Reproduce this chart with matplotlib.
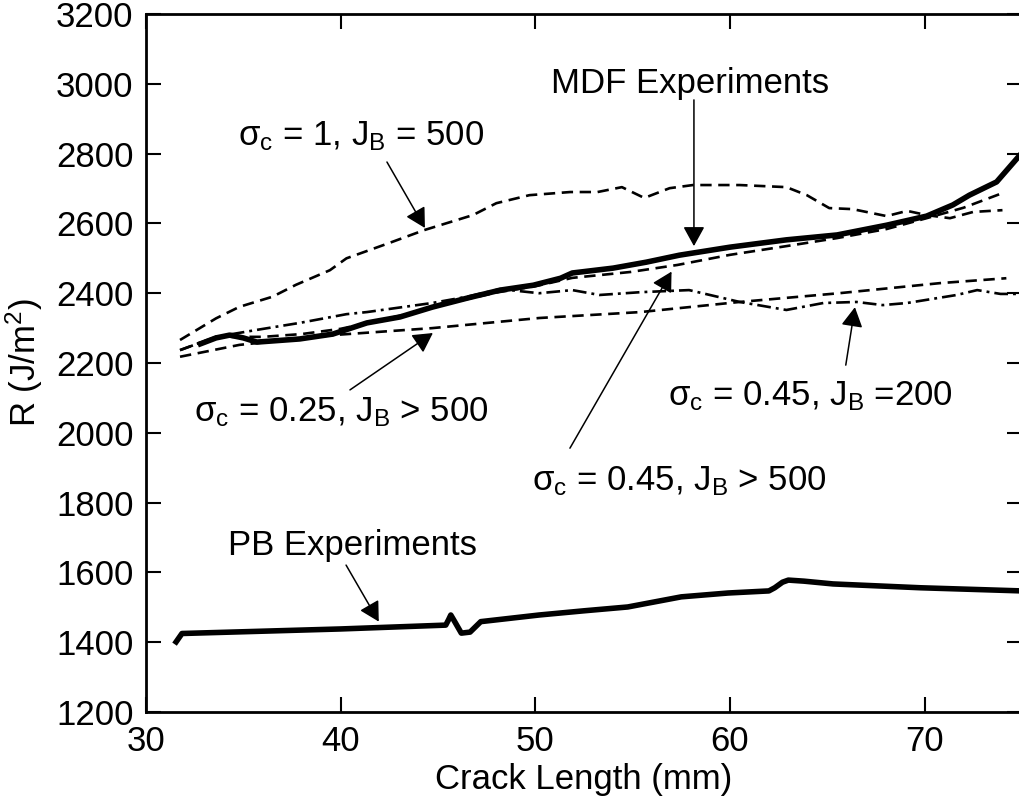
import matplotlib
matplotlib.use('Agg')
import matplotlib.pyplot as plt

plt.rcParams['font.family'] = ['Liberation Sans', 'DejaVu Sans']
plt.rcParams['mathtext.fontset'] = 'custom'
plt.rcParams['mathtext.rm'] = 'Liberation Sans'
plt.rcParams['mathtext.it'] = 'Liberation Sans'

# sigma_c = 1, J_B = 500 (dashed, top)
s1_x = [31.75, 33.6, 34.8, 36.5, 37.7, 39.45, 40.3, 42.5, 44.3, 46.8, 48.0, 49.7, 51.8, 53.2,
        54.45, 55.6, 56.9, 58.1, 60.5, 62.9, 63.95, 65.1, 66.3, 68.05, 69.1, 70.1, 71.3, 72.5, 74.0]
s1_y = [2266, 2328, 2361, 2390, 2424, 2466, 2500, 2544, 2581, 2624, 2658, 2681, 2690, 2690,
        2704, 2673, 2701, 2710, 2710, 2704, 2681, 2644, 2641, 2621, 2636, 2624, 2615, 2633, 2638]

# MDF experiments (thick solid)
mdf_x = [32.8, 33.6, 34.3, 35.0, 35.7, 37.9, 39.6, 41.35, 43.05, 44.7, 46.5, 48.2, 49.9, 51.3,
         51.9, 54.0, 55.7, 57.4, 60.0, 62.9, 65.5, 68.05, 70.1, 71.45, 72.3, 73.7, 74.9]
mdf_y = [2255, 2272, 2280, 2272, 2260, 2269, 2283, 2315, 2332, 2360, 2386, 2409, 2423, 2443,
         2458, 2472, 2489, 2509, 2532, 2553, 2567, 2595, 2621, 2653, 2681, 2719, 2796]

# sigma_c = 0.45, J_B > 500 (dashed, follows MDF)
s45_x = [31.75, 33.6, 36.0, 38.0, 40.0, 42.0, 44.0, 46.0, 48.0, 50.0, 51.9, 54.9, 57.3, 60.0,
         62.9, 65.5, 68.05, 70.1, 72.0, 74.0]
s45_y = [2237, 2275, 2275, 2283, 2298, 2322, 2348, 2377, 2402, 2420, 2444, 2461, 2481, 2510,
         2535, 2558, 2584, 2615, 2645, 2687]

# sigma_c = 0.45, J_B = 200 (dash-dot)
s45b_x = [31.75, 33.6, 35.7, 37.9, 40.3, 41.35, 44.7, 46.5, 48.2, 50.2, 51.9, 53.3, 55.4, 57.9,
          60.5, 62.9, 64.8, 66.5, 67.85, 69.1, 71.65, 72.7, 73.9, 75.0]
s45b_y = [2237, 2275, 2295, 2315, 2340, 2346, 2372, 2390, 2412, 2400, 2409, 2395, 2403, 2409,
          2375, 2352, 2372, 2375, 2366, 2372, 2395, 2409, 2398, 2398]

# sigma_c = 0.25, J_B > 500 (dashed, lowest)
s25_x = [31.75, 34.8, 36.2, 39.6, 44.7, 50.2, 55.4, 60.5, 65.6, 70.8, 74.2]
s25_y = [2218, 2252, 2260, 2280, 2300, 2329, 2346, 2375, 2400, 2429, 2443]

# PB experiments (thick solid, bottom)
pb_x = [31.55, 31.85, 35.0, 40.0, 45.4, 45.55, 45.66, 45.85, 46.2, 46.65, 47.2, 50.2, 52.5,
        54.75, 57.5, 59.9, 62.0, 62.3, 62.7, 63.0, 63.8, 65.3, 69.8, 75.0]
pb_y = [1401, 1425, 1430, 1438, 1449, 1465, 1478, 1460, 1426, 1429, 1459, 1478, 1490,
        1501, 1530, 1541, 1547, 1556, 1572, 1578, 1575, 1567, 1556, 1547]

fs = 25

fig = plt.figure(figsize=(10.2, 8.07), dpi=100)
ax = fig.add_axes([0.1431, 0.1177, 0.8588, 0.8649])

dash = (0, (4.3, 2.5))
ax.plot(s1_x, s1_y, color='black', lw=1.9, linestyle=dash)
ax.plot(s25_x, s25_y, color='black', lw=1.9, linestyle=dash)
ax.plot(s45_x, s45_y, color='black', lw=1.9, linestyle=dash)
ax.plot(s45b_x, s45b_y, color='black', lw=1.9, linestyle=(0, (5.2, 1.9, 1.1, 1.9)))
ax.plot(mdf_x, mdf_y, color='black', lw=4.0, solid_joinstyle='round')
ax.plot(pb_x, pb_y, color='black', lw=4.0, solid_joinstyle='round')

ax.set_xlim(30, 75)
ax.set_ylim(1200, 3200)
ax.set_xticks([30, 40, 50, 60, 70])
ax.set_yticks(range(1200, 3201, 200))
ax.tick_params(direction='in', length=11, width=1.5, top=True, right=True,
               labelsize=fs, pad=9)
for sp in ax.spines.values():
    sp.set_linewidth(2)

ax.set_xlabel('Crack Length (mm)', fontsize=fs, labelpad=4)
ax.set_ylabel('R (J/m$^2$)', fontsize=fs, labelpad=8)

arrow = dict(arrowstyle='-|>,head_length=1.0,head_width=0.55', color='black', lw=1.1,
             mutation_scale=12, shrinkA=0, shrinkB=0)

# text labels
ax.text(41.04, 2825, 'σ$_\\mathrm{c}$ = 1, J$_\\mathrm{B}$ = 500', fontsize=fs, ha='center', va='baseline')
ax.text(57.94, 2974, 'MDF Experiments', fontsize=fs, ha='center', va='baseline')
ax.text(40.02, 2034, 'σ$_\\mathrm{c}$ = 0.25, J$_\\mathrm{B}$ > 500', fontsize=fs, ha='center', va='baseline')
ax.text(64.15, 2080, 'σ$_\\mathrm{c}$ = 0.45, J$_\\mathrm{B}$ =200', fontsize=fs, ha='center', va='baseline')
ax.text(57.38, 1836, 'σ$_\\mathrm{c}$ = 0.45, J$_\\mathrm{B}$ > 500', fontsize=fs, ha='center', va='baseline')
ax.text(40.6, 1650, 'PB Experiments', fontsize=fs, ha='center', va='baseline')

# arrows (tail -> head)
ax.annotate('', xy=(44.33, 2587), xytext=(42.38, 2776), arrowprops=arrow)
ax.annotate('', xy=(58.15, 2535), xytext=(58.15, 2954), arrowprops=arrow)
ax.annotate('', xy=(44.74, 2286), xytext=(40.48, 2123), arrowprops=arrow)
ax.annotate('', xy=(66.42, 2360), xytext=(65.95, 2194), arrowprops=arrow)
ax.annotate('', xy=(57.0, 2462), xytext=(51.78, 1956), arrowprops=arrow)
ax.annotate('', xy=(41.96, 1459), xytext=(40.28, 1621), arrowprops=arrow)

fig.savefig('out.png', dpi=100, facecolor='white')
